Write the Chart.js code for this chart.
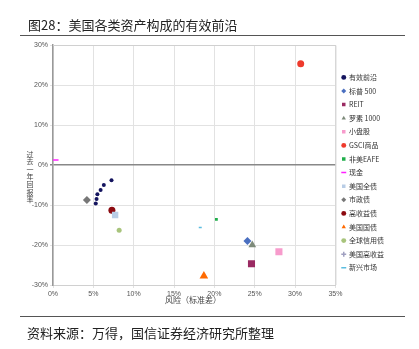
<!DOCTYPE html>
<html>
<head>
<meta charset="utf-8">
<script src="https://cdn.jsdelivr.net/npm/chart.js@4.4.1/dist/chart.umd.min.js"></script>
<style>
  body { margin: 0; background: #fff; font-family: "Noto Sans CJK SC", sans-serif; }
  #wrap { position: relative; width: 419px; height: 349px; }
  #chart { position: absolute; left: 0; top: 0; }
  .head { position: absolute; left: 28px; top: 16px; font-size: 13px; color: #222; line-height: 18px; }
  .rule { position: absolute; left: 20px; width: 385px; height: 0; border-top: 1.5px solid #555; }
  .src { position: absolute; left: 27px; top: 324px; font-size: 13px; color: #222; line-height: 18px; }
</style>
</head>
<body>
<div id="wrap">
  <canvas id="chart" width="419" height="349"></canvas>
  <div class="head">图28：美国各类资产构成的有效前沿</div>
  <div class="rule" style="top:35px"></div>
  <div class="rule" style="top:316px"></div>
  <div class="src">资料来源：万得，国信证券经济研究所整理</div>
</div>
<script>
// efficient frontier (risk %, return %)
const frontierRisk = [5.3, 5.4, 5.5, 5.9, 6.3, 7.25];
const frontierReturn = [-9.6, -8.5, -7.3, -6.25, -5.0, -3.8];

// individual asset classes
const assetNames = ["标普 500", "REIT", "罗素 1000", "小盘股", "GSCI商品", "非美EAFE", "现金", "美国全债", "市政债", "高收益债", "美国国债", "全球信用债", "美国高收益", "新兴市场"];
const assetRisk = [24.1, 24.6, 24.7, 28.0, 30.7, 20.25, 0.25, 7.7, 4.2, 7.3, 18.7, 8.2, 7.3, 18.25];
const assetReturn = [-19.0, -24.7, -20.0, -21.7, 25.3, -13.6, 1.25, -12.5, -8.75, -11.3, -27.75, -16.3, -11.3, -15.6];

const xTicks = [0, 5, 10, 15, 20, 25, 30, 35];
const yTicks = [-30, -20, -10, 0, 10, 20, 30];

// marker styles, same order as assetNames
const assetStyle = [
  { shape: "rectRot", color: "#4a6fc0", r: 4 },
  { shape: "rect", color: "#9a2a62", r: 5 },
  { shape: "triangle", color: "#7d8a7a", r: 4.5 },
  { shape: "rect", color: "#f79bcc", r: 5 },
  { shape: "circle", color: "#ee3a2c", r: 3.5 },
  { shape: "rect", color: "#1fae4a", r: 2 },
  { shape: "line", color: "#ff20ff", r: 3.5 },
  { shape: "rect", color: "#b9cde6", r: 4.5 },
  { shape: "rectRot", color: "#777777", r: 4 },
  { shape: "circle", color: "#8c0a10", r: 3.5 },
  { shape: "triangle", color: "#ff6a00", r: 5 },
  { shape: "circle", color: "#a8c47c", r: 2.5 },
  { shape: "cross", color: "#a0a0c0", r: 3 },
  { shape: "line", color: "#5bbde0", r: 1.5 }
];

const datasets = [{
  label: "有效前沿",
  data: frontierRisk.map((x, i) => ({ x: x, y: frontierReturn[i] })),
  pointStyle: "circle",
  pointRadius: 2,
  backgroundColor: "#14145e",
  borderColor: "#14145e",
  borderWidth: 0
}];
assetNames.forEach((name, i) => {
  const s = assetStyle[i];
  const isLine = s.shape === "line" || s.shape === "cross";
  datasets.push({
    label: name,
    data: [{ x: assetRisk[i], y: assetReturn[i] }],
    pointStyle: s.shape,
    pointRadius: s.r,
    backgroundColor: s.color,
    borderColor: s.color,
    borderWidth: isLine ? 1.5 : 0
  });
});

const frame = {
  id: "frame",
  beforeDatasetsDraw(chart) {
    const { ctx, chartArea: a } = chart;
    ctx.save();
    ctx.strokeStyle = "#d0d0d0";
    ctx.lineWidth = 1;
    ctx.beginPath();
    ctx.moveTo(a.left, a.top + 0.5);
    ctx.lineTo(a.right + 0.5, a.top + 0.5);
    ctx.lineTo(a.right + 0.5, a.bottom);
    ctx.stroke();
    ctx.restore();
  },
  afterDraw(chart) {
    const ctx = chart.ctx;
    ctx.save();
    ctx.fillStyle = "#444";
    ctx.font = "8px 'Noto Sans CJK SC'";
    ctx.textAlign = "center";
    ctx.textBaseline = "middle";
    ctx.fillText("风险（标准差）", 193, 300);
    // vertical (stacked) y-axis title
    ctx.font = "7px 'Noto Sans CJK SC'";
    const yt = "过去一年回报率";
    for (let i = 0; i < yt.length; i++) {
      ctx.fillText(yt[i], 30, 154 + i * 7.6);
    }
    ctx.restore();
  }
};

new Chart(document.getElementById("chart"), {
  type: "scatter",
  data: { datasets: datasets },
  plugins: [frame],
  options: {
    responsive: false,
    animation: false,
    layout: { padding: { top: 45, right: 25, left: 0, bottom: 0 } },
    plugins: {
      tooltip: { enabled: false },
      legend: {
        position: "right",
        fullSize: false,
        align: "center",
        title: { display: true, text: " ", font: { size: 1 }, padding: { top: 14, bottom: 0 } },
        labels: {
          usePointStyle: true,
          boxWidth: 3.5,
          boxHeight: 3.5,
          padding: 6.6,
          color: "#333",
          font: { size: 7, family: "'Noto Sans CJK SC'" }
        }
      }
    },
    scales: {
      x: {
        min: 0, max: 35,
        afterFit(s) { s.height = 64; },
        afterBuildTicks(s) { s.ticks = xTicks.map(v => ({ value: v })); },
        grid: { color: "#e2e2e2", tickLength: 3, drawTicks: true },
        border: { color: "#d0d0d0" },
        ticks: { padding: 2, color: "#555", font: { size: 7, family: "'Liberation Sans'" }, callback: v => v + "%" }
      },
      y: {
        min: -30, max: 30,
        afterFit(s) { s.width = 53; },
        afterBuildTicks(s) { s.ticks = yTicks.map(v => ({ value: v })); },
        grid: {
          color: c => c.tick && c.tick.value === 0 ? "#888" : "#e2e2e2",
          lineWidth: c => c.tick && c.tick.value === 0 ? 1.5 : 1,
          tickLength: 3
        },
        border: { color: "#999", width: 1.5 },
        ticks: { padding: 2, color: "#555", font: { size: 7, family: "'Liberation Sans'" }, callback: v => v + "%" }
      }
    }
  }
});
</script>
</body>
</html>
